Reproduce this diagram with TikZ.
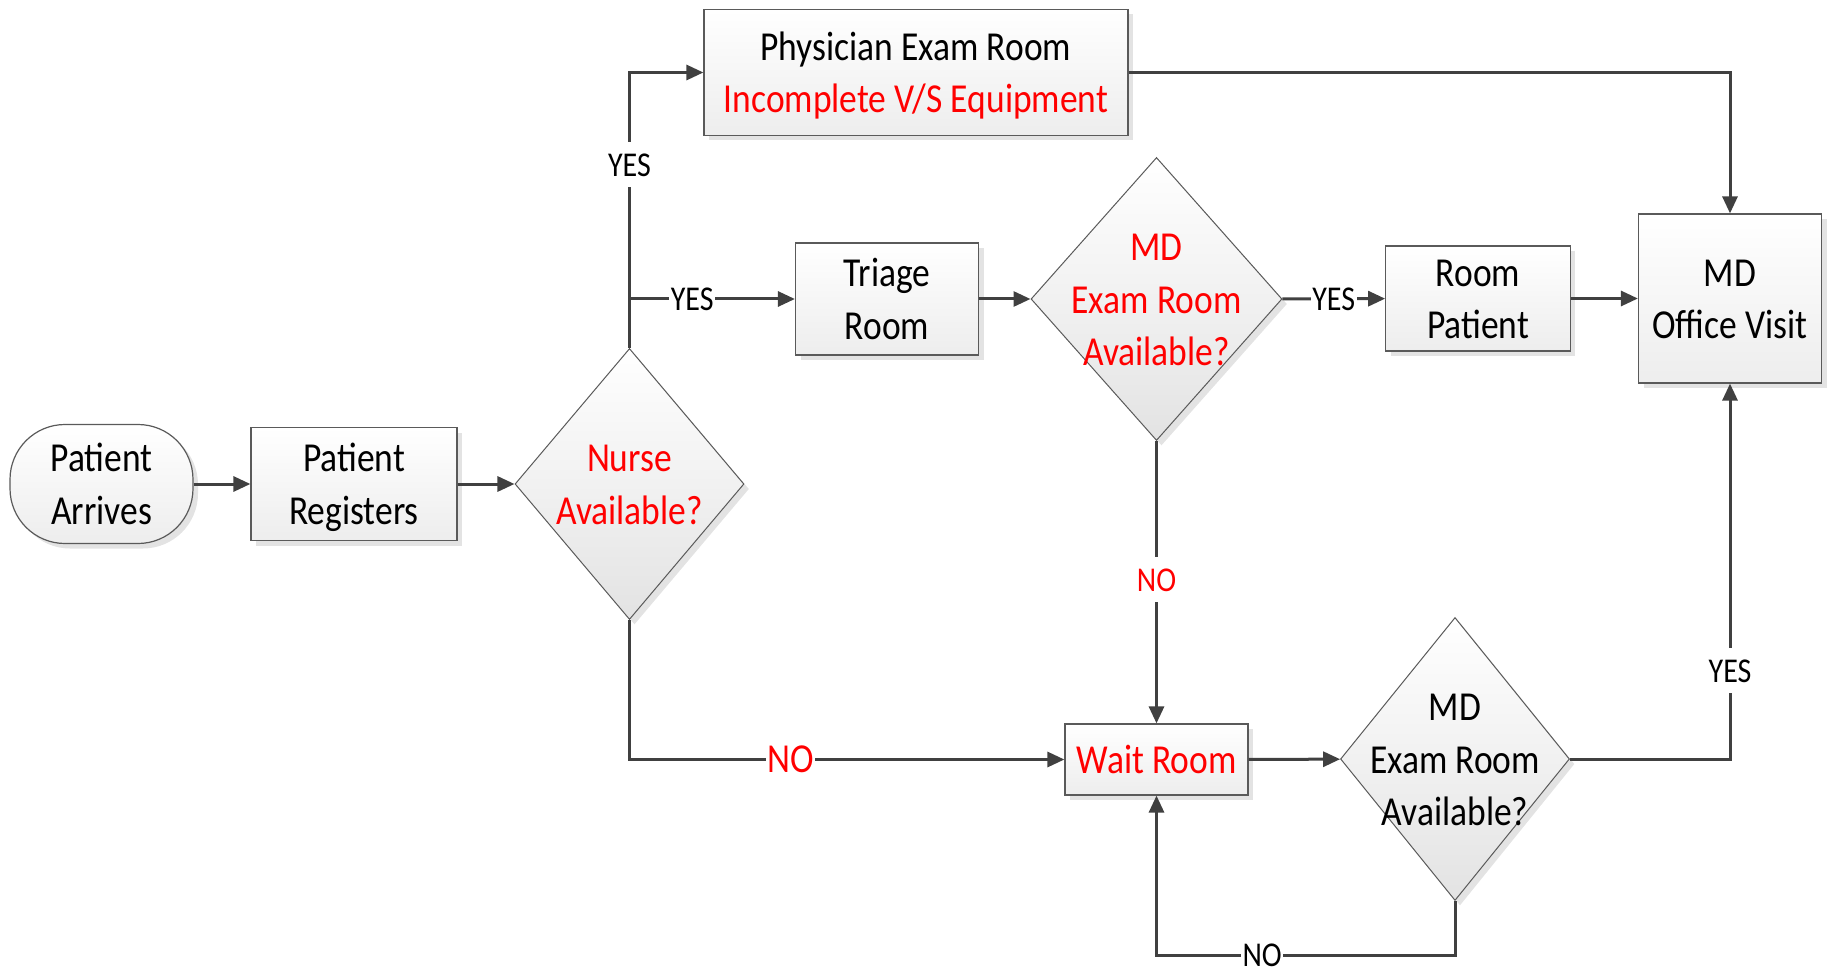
\documentclass[tikz,border=0pt]{standalone}
\usepackage{fontspec}
\usepackage{graphicx}
\setmainfont{Carlito}
\usetikzlibrary{shapes.geometric,arrows.meta,shadows}
\definecolor{ln}{HTML}{404040}
\definecolor{bd}{HTML}{5A5A5A}
\definecolor{rd}{HTML}{FF0000}
\newcommand\stt[1]{\raisebox{-3.5pt}[\height][\depth]{\scalebox{1}[1.16]{\begin{tabular}{@{}c@{}}#1\end{tabular}}}}
\begin{document}
\begin{tikzpicture}[x=1pt,y=-1pt,
  shd/.style={drop shadow={shadow xshift=5pt, shadow yshift=-5pt, fill=black!11, opacity=1}},
  box/.style={rectangle, draw=bd, line width=1.2pt, top color=white, bottom color=black!7, shd,
    inner sep=0pt, font=\fontsize{35.5}{45.3}\selectfont},
  term/.style={box, rounded corners=55pt},
  dia/.style={diamond, draw=bd, line width=1pt, top color=white, bottom color=black!11, shd,
    inner sep=0pt},
  dtxt/.style={inner sep=0pt, font=\fontsize{35.5}{45.3}\selectfont},
  conn/.style={draw=ln, line width=3pt, -{Triangle[length=17pt,width=15pt]}},
  lbl/.style={fill=white, inner sep=1.5pt, text=black, font=\fontsize{30}{36}\selectfont},
  biglbl/.style={fill=white, inner sep=1.5pt, text=rd, font=\fontsize{35.5}{42}\selectfont}
]
\path[use as bounding box] (0,0) rectangle (1831,968);

% nodes
\node[term, minimum width=183pt, minimum height=119pt] (arr) at (101.5,484) {\stt{Patient\\Arrives}};
\node[box, minimum width=206pt, minimum height=113pt] (reg) at (354,484) {\stt{Patient\\Registers}};
\node[dia, minimum width=229pt, minimum height=271pt] (nurse) at (629.5,484) {};
\node[dtxt, text=rd] (nurseT) at (nurse.center) {\stt{Nurse\\Available?}};
\node[box, minimum width=424pt, minimum height=126pt] (phys) at (916,72.5) {\stt{Physician Exam Room\\\textcolor{rd}{Incomplete V/S Equipment}}};
\node[box, minimum width=183pt, minimum height=112pt] (triage) at (887,299) {\stt{Triage\\Room}};
\node[dia, minimum width=251pt, minimum height=283pt] (md1) at (1156.5,299) {};
\node[dtxt, text=rd] (md1T) at (md1.center) {\stt{MD\\Exam Room\\Available?}};
\node[box, minimum width=184.5pt, minimum height=99pt] (room) at (1478,298.5) {\stt{Room\\Patient}};
\node[box, minimum width=183pt, minimum height=169pt] (office) at (1730,298.5) {\stt{MD\\Office Visit}};
\node[box, minimum width=183pt, minimum height=71pt, text=rd] (wait) at (1156.5,759.5) {\stt{Wait Room}};
\node[dia, minimum width=229pt, minimum height=283pt] (md2) at (1455,759) {};
\node[dtxt] (md2T) at (md2.center) {\stt{MD\\Exam Room\\Available?}};

\coordinate (br) at (629.5,299);
\coordinate (lp) at (1455,955);

% connectors
\draw[conn] (arr) -- (reg);
\draw[conn] (reg) -- (nurse);
\draw[conn] (nurse.north) |- (phys.west) node[lbl, pos=0.333] {\stt{YES}};
\draw[conn] (br) -- (triage) node[lbl, pos=0.379] {\stt{YES}};
\draw[conn] (triage) -- (md1);
\draw[conn] (md1) -- (room) node[lbl, pos=0.5] {\stt{YES}};
\draw[conn] (room) -- (office);
\draw[conn] (phys.east) -| (office.north);
\draw[conn] (md1.south) -- (wait.north) node[lbl, text=rd, pos=0.49] {\stt{NO}};
\draw[conn] (nurse.south) |- (wait.west) node[biglbl, pos=0.685] {\stt{NO}};
\draw[conn] (wait) -- (md2);
\draw[conn] (md2.east) -| (office.south) node[lbl, pos=0.618] {\stt{YES}};
\draw[conn] (md2.south) -- (lp) -| (wait.south) node[lbl, pos=0.323, inner ysep=0pt] {\stt{NO}};
\end{tikzpicture}
\end{document}
